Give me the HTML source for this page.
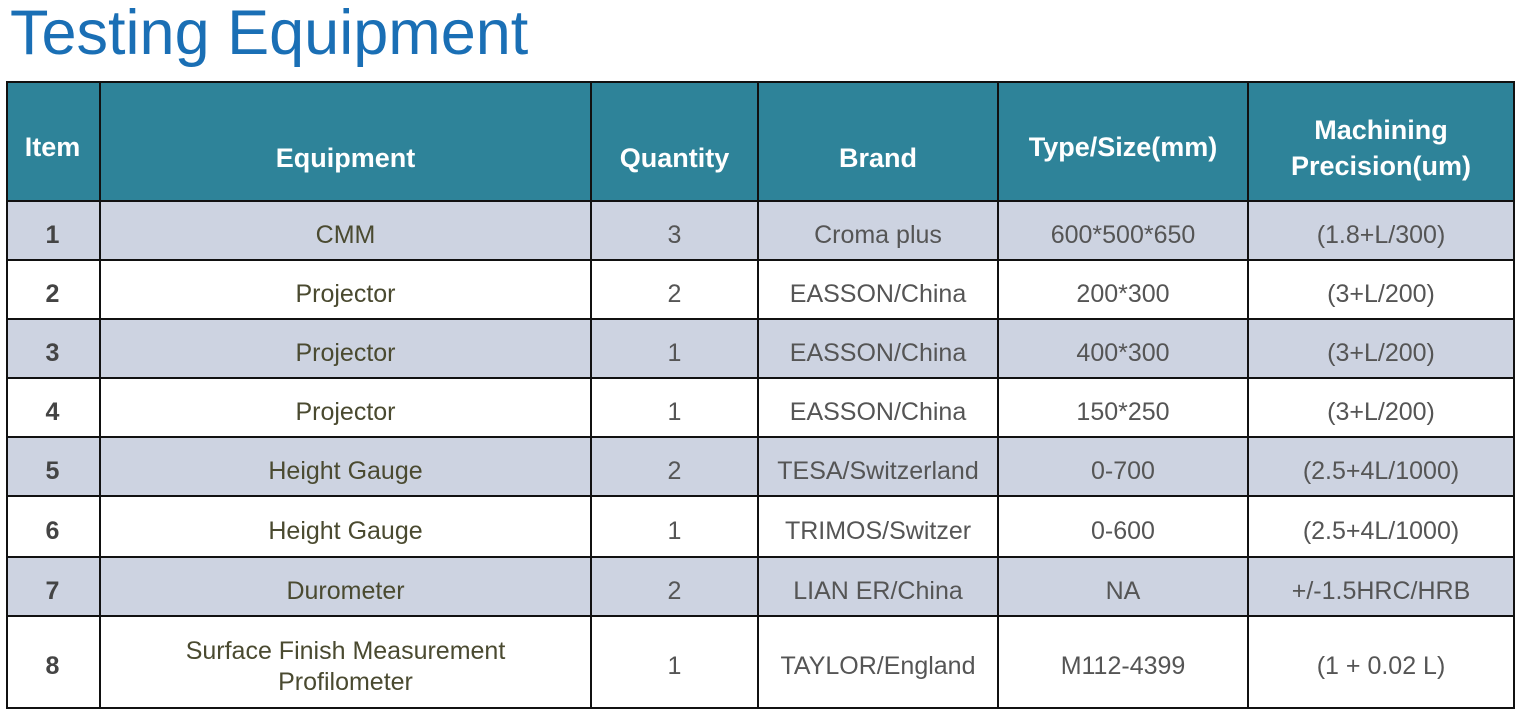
<!DOCTYPE html>
<html><head><meta charset="utf-8"><style>
body{margin:0;width:1530px;height:726px;background:#fff;position:relative;overflow:hidden;font-family:"Liberation Sans","DejaVu Sans",sans-serif}
.t{position:absolute;left:10px;top:-3px;font-size:63px;color:#1a6fb5;white-space:nowrap}
.c{position:absolute;display:flex;align-items:center;justify-content:center;text-align:center;box-sizing:border-box;border-right:2px solid #111;border-bottom:2px solid #111;font-size:25px;color:#555;line-height:31px;padding-top:9px}
.h{background:#2e8399;color:#fff;font-weight:bold;font-size:27px}
.s{background:#cdd3e1}
.e{color:#4a4a30}
.i{font-weight:bold;color:#444}
.box{position:absolute;left:6px;top:81px;width:1509px;height:628px;border:2px solid #111;box-sizing:border-box;pointer-events:none}
</style></head><body>
<div class="t">Testing Equipment</div>
<div id="g"></div>
<div class="box"></div>
<script>
var cols=[6,101,592,759,999,1249,1515];
var rows=[81,202,261,320,379,438,497,558,617,709];
var data=[
["Item","Equipment","Quantity","Brand","Type/Size(mm)","Machining<br>Precision(um)"],
["1","CMM","3","Croma plus","600*500*650","(1.8+L/300)"],
["2","Projector","2","EASSON/China","200*300","(3+L/200)"],
["3","Projector","1","EASSON/China","400*300","(3+L/200)"],
["4","Projector","1","EASSON/China","150*250","(3+L/200)"],
["5","Height Gauge","2","TESA/Switzerland","0-700","(2.5+4L/1000)"],
["6","Height Gauge","1","TRIMOS/Switzer","0-600","(2.5+4L/1000)"],
["7","Durometer","2","LIAN ER/China","NA","+/-1.5HRC/HRB"],
["8","Surface Finish Measurement<br>Profilometer","1","TAYLOR/England","M112-4399","(1 + 0.02 L)"]];
var h="";
for(var r=0;r<9;r++)for(var c=0;c<6;c++){
var cl="c";if(r==0)cl+=" h";else{if(r%2==1)cl+=" s";if(c==1)cl+=" e";if(c==0)cl+=" i";}
var st="left:"+cols[c]+"px;top:"+rows[r]+"px;width:"+(cols[c+1]-cols[c])+"px;height:"+(rows[r+1]-rows[r])+"px;";
if(r==0){
 if(c==0||c==4)st+="align-items:flex-start;padding-top:51px;";
 else if(c==5)st+="align-items:flex-start;padding-top:31px;line-height:36px;";
 else st+="padding-top:36px;";
}
h+='<div class="'+cl+'" style="'+st+'">'+data[r][c]+'</div>';}
document.getElementById("g").innerHTML=h;
</script>
</body></html>
